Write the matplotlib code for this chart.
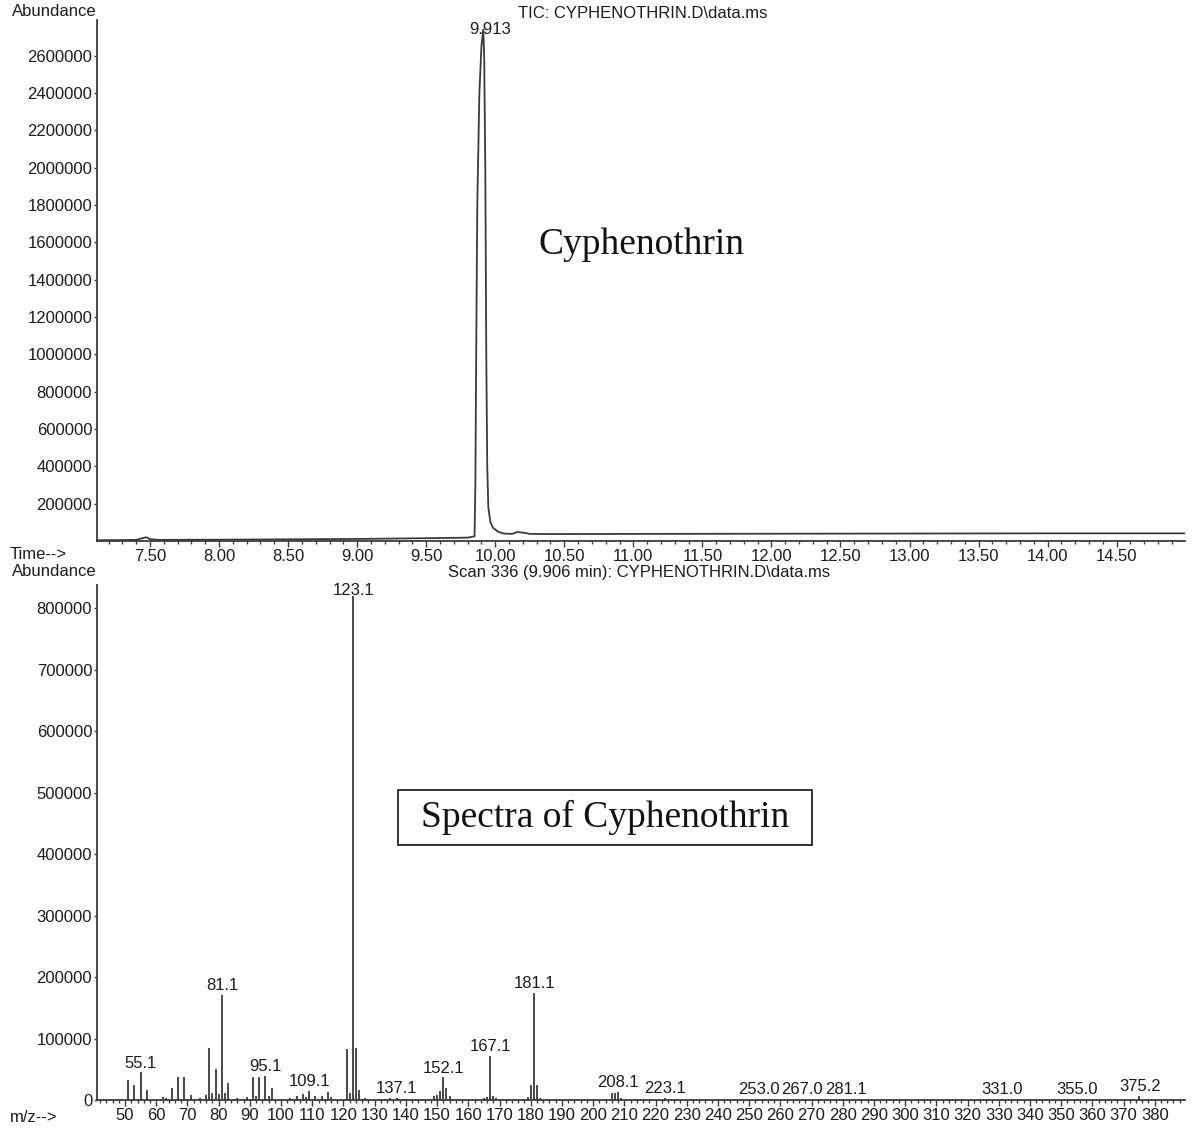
import matplotlib
matplotlib.use("Agg")
import matplotlib.pyplot as plt
from matplotlib.patches import Rectangle
import numpy as np

# ---------------- data ----------------
# TIC chromatogram (time in min, abundance)
tic_time = [7.12, 7.30, 7.40, 7.44, 7.47, 7.50, 7.56, 8.00, 8.50, 9.00, 9.50, 9.80,
            9.850, 9.856, 9.862, 9.870, 9.885, 9.900, 9.913, 9.920, 9.928, 9.935,
            9.942, 9.950, 9.965, 9.985, 10.02, 10.06, 10.12, 10.16, 10.20, 10.25,
            10.40, 11.00, 12.00, 13.00, 14.00, 15.00]
tic_abund = [4000, 5000, 6000, 14000, 20000, 10000, 6000, 7000, 9000, 11000, 15000, 18000,
             25000, 300000, 1000000, 1800000, 2400000, 2650000, 2740000, 2600000, 2000000, 1000000,
             400000, 180000, 100000, 70000, 50000, 40000, 38000, 48000, 45000, 38000,
             37000, 38000, 39000, 40000, 41000, 41000]
tic_peak_time = 9.913
tic_peak_label = "9.913"
tic_yticks = [200000, 400000, 600000, 800000, 1000000, 1200000, 1400000,
              1600000, 1800000, 2000000, 2200000, 2400000, 2600000]
tic_xticks = [7.50, 8.00, 8.50, 9.00, 9.50, 10.00, 10.50, 11.00, 11.50,
              12.00, 12.50, 13.00, 13.50, 14.00, 14.50]

# Mass spectrum (m/z, abundance)
ms_mz = [51, 53, 55, 57, 62, 63, 65, 67, 69, 71, 74, 76, 77, 78, 79, 80, 81, 82, 83,
         86, 89, 91, 92, 93, 95, 96, 97, 103, 105, 107, 108, 109, 111, 113, 115, 116,
         121, 122, 123, 124, 125, 127, 135, 137, 139, 149, 150, 151, 152, 153, 154,
         165, 166, 167, 168, 169, 179, 180, 181, 182, 183, 206, 207, 208, 209,
         223, 253, 267, 281, 331, 355, 375]
ms_abund = [32000, 24000, 45000, 16000, 5000, 3000, 19000, 37000, 38000, 8000, 3000, 8000,
            84000, 12000, 51000, 10000, 171000, 12000, 27000,
            3000, 5000, 37000, 6000, 38000, 39000, 6000, 19000, 3000, 6000, 10000, 5000,
            15000, 6000, 7000, 13000, 5000,
            83000, 12000, 820000, 84000, 16000, 4000, 3000, 4000, 2000, 6000, 8000, 14000,
            37000, 19000, 6000,
            4000, 5000, 72000, 6000, 4000, 5000, 24000, 174000, 24000, 4000, 12000, 12000,
            13000, 4000,
            3000, 2000, 1500, 2000, 1500, 1500, 7000]
ms_labels = ["55.1", "81.1", "95.1", "109.1", "123.1", "137.1", "152.1", "167.1", "181.1",
             "208.1", "223.1", "253.0", "267.0", "281.1", "331.0", "355.0", "375.2"]
ms_yticks = [0, 100000, 200000, 300000, 400000, 500000, 600000, 700000, 800000]
ms_xticks = list(range(50, 381, 10))

# ---------------- figure ----------------
W, H = 1192, 1129
fig = plt.figure(figsize=(W / 100, H / 100), dpi=100)
plt.rcParams['font.family'] = ['Liberation Sans', 'DejaVu Sans']
TXT = '#1c1c1c'
LINE = '#3a3a3a'
FS = 12


def fx(px):
    return px / W


def fy(py):
    return 1 - py / H


def style_axes(ax):
    for s in ['top', 'right']:
        ax.spines[s].set_visible(False)
    for s in ['left', 'bottom']:
        ax.spines[s].set_color(LINE)
        ax.spines[s].set_linewidth(1.3)
    ax.tick_params(axis='both', which='both', direction='out', colors=LINE,
                   labelcolor=TXT, labelsize=FS, width=1.0)
    ax.tick_params(axis='x', which='major', length=4.5, pad=1.5)
    ax.tick_params(axis='x', which='minor', length=2.5)
    ax.tick_params(axis='y', which='major', length=2.5, pad=1.0)


# ---- top: TIC ----
ax1 = fig.add_axes([fx(97), fy(541), fx(1185 - 97), fy(20) - fy(541)])
ax1.plot(tic_time, tic_abund, color=LINE, lw=1.3)
ax1.set_xlim(7.116, 14.995)
ax1.set_ylim(0, 2791000)
ax1.set_yticks(tic_yticks)
ax1.set_yticklabels([str(v) for v in tic_yticks])
ax1.set_xticks(tic_xticks)
ax1.set_xticklabels(["%.2f" % v for v in tic_xticks])
ax1.set_xticks(np.arange(7.2, 15.0, 0.1), minor=True)
style_axes(ax1)
pk = tic_abund[tic_time.index(tic_peak_time)]
ax1.annotate(tic_peak_label, (tic_peak_time, min(pk, 2740000)), xytext=(5, 0),
             textcoords='offset points', ha='center', va='center', fontsize=FS, color=TXT)

fig.text(fx(12), fy(12), "Abundance", ha='left', va='center', fontsize=FS, color=TXT)
fig.text(fx(643), fy(14), "TIC: CYPHENOTHRIN.D\\data.ms", ha='center', va='center',
         fontsize=FS, color=TXT)
fig.text(fx(10), fy(555), "Time-->", ha='left', va='center', fontsize=FS, color=TXT)
fig.text(fx(642), fy(245), "Cyphenothrin", ha='center', va='center', fontsize=27,
         family='Liberation Serif', color='#111111')

# ---- bottom: spectrum ----
ax2 = fig.add_axes([fx(97), fy(1100), fx(1185 - 97), fy(585) - fy(1100)])
ax2.vlines(ms_mz, 0, ms_abund, color=LINE, lw=1.3)
ax2.set_xlim(41.0, 389.7)
ax2.set_ylim(0, 837400)
ax2.set_yticks(ms_yticks)
ax2.set_yticklabels([str(v) for v in ms_yticks])
ax2.set_xticks(ms_xticks)
ax2.set_xticklabels([str(v) for v in ms_xticks])
ax2.set_xticks(np.arange(42, 390, 2), minor=True)
style_axes(ax2)

ymax2 = ax2.get_ylim()[1]
for lab in ms_labels:
    m = float(lab)
    mi = int(round(m))
    h = ms_abund[ms_mz.index(mi)] if mi in ms_mz else 0
    yl = min(h + 15000, ymax2 * 0.99)
    ax2.text(m, yl, lab, ha='center', va='center', fontsize=FS, color=TXT, clip_on=False)

fig.text(fx(12), fy(572), "Abundance", ha='left', va='center', fontsize=FS, color=TXT)
fig.text(fx(639), fy(573), "Scan 336 (9.906 min): CYPHENOTHRIN.D\\data.ms", ha='center',
         va='center', fontsize=FS, color=TXT)
fig.text(fx(10), fy(1117), "m/z-->", ha='left', va='center', fontsize=FS, color=TXT)

fig.patches.append(Rectangle((fx(398), fy(845)), fx(812 - 398), fy(790) - fy(845),
                             transform=fig.transFigure, fill=False, ec='#111111', lw=1.2))
fig.text(fx(605), fy(817), "Spectra of Cyphenothrin", ha='center', va='center', fontsize=27,
         family='Liberation Serif', color='#111111')

fig.savefig("out.png", dpi=100, facecolor='white')
